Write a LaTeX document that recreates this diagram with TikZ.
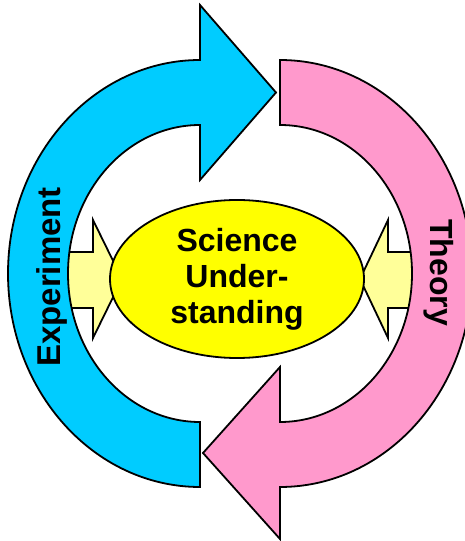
\documentclass[tikz,border=0pt]{standalone}
\usepackage{fontspec}
\setmainfont{Liberation Sans}
\usetikzlibrary{shapes.geometric}
\definecolor{cyanarrow}{HTML}{00CCFF}
\definecolor{pinkarrow}{HTML}{FF99CC}
\definecolor{lightyel}{HTML}{FFFF99}
\definecolor{yel}{HTML}{FFFF00}
\begin{document}
\begin{tikzpicture}[x=1pt,y=1pt,line join=miter,
  outl/.style={draw=black,line width=1.8pt},
  lbl/.style={font=\bfseries\fontsize{#1}{#1}\selectfont,inner sep=0pt}]
\useasboundingbox (0,0) rectangle (465,541);
\clip (0,0) rectangle (465,541);
% small yellow arrows
\path[outl,fill=lightyel] (40,233) -- (93,233) -- (93,203) -- (122,262) -- (93,321) -- (93,289) -- (40,289) -- cycle;
\path[outl,fill=lightyel] (440,233) -- (388,233) -- (388,203) -- (360,262) -- (388,321) -- (388,289) -- (440,289) -- cycle;
% centre ellipse
\node[outl,fill=yel,ellipse,minimum width=254pt,minimum height=158pt,inner sep=0pt,align=center,
  font=\bfseries\fontsize{32}{36}\selectfont] (core) at (237,262) {Science\\Under-\\standing};
% blue arrow
\path[outl,fill=cyanarrow] (200,54) arc[start angle=270,end angle=90,x radius=192,y radius=213.5]
  -- (200,536) -- (276,448.5) -- (200,361) -- (200,416)
  arc[start angle=90,end angle=270,x radius=132,y radius=148.5] -- cycle;
% pink arrow
\path[outl,fill=pinkarrow] (280,481) arc[start angle=90,end angle=-90,x radius=192,y radius=213.5]
  -- (280,2) -- (203,88) -- (280,174) -- (280,119)
  arc[start angle=-90,end angle=90,x radius=132,y radius=148.5] -- cycle;
% labels
\node[lbl=33,rotate=90,anchor=base] (exp) at (60,264) {Experiment};
\node[lbl=32,rotate=-90,anchor=base] (theo) at (430,268.5) {Theory};
\end{tikzpicture}
\end{document}
